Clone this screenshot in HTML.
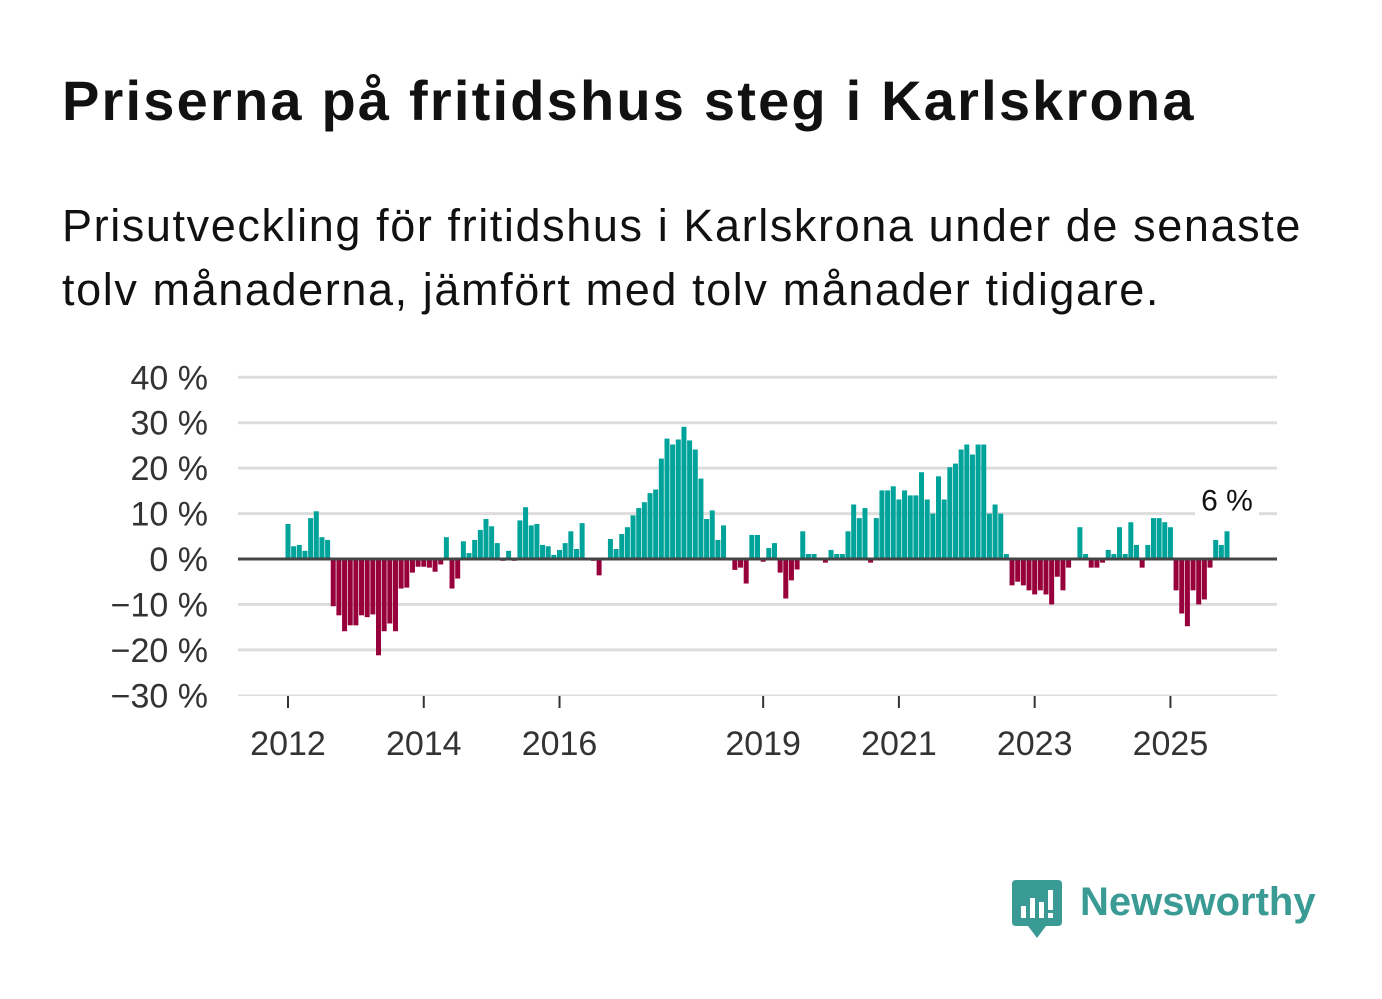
<!DOCTYPE html>
<html><head><meta charset="utf-8"><style>
body{margin:0;background:#fff;width:1382px;height:999px;overflow:hidden;font-family:"Liberation Sans","DejaVu Sans",sans-serif}
h1{position:absolute;left:62px;top:68px;margin:0;font-size:56px;font-weight:bold;color:#111;letter-spacing:2.2px;white-space:nowrap}
p{position:absolute;left:62px;top:194px;margin:0;font-size:45px;line-height:64px;color:#111;white-space:nowrap;letter-spacing:1.6px}
</style></head><body>
<h1>Priserna på fritidshus steg i Karlskrona</h1>
<p>Prisutveckling för fritidshus i Karlskrona under de senaste<br>tolv månaderna, jämfört med tolv månader tidigare.</p>
<svg id="chart" width="1382" height="999" style="position:absolute;left:0;top:0" xmlns="http://www.w3.org/2000/svg"></svg>
<div style="position:absolute;left:1012px;top:878px;width:320px;height:64px">
<svg width="50" height="62" style="position:absolute;left:0;top:2px"><path d="M4 0H46Q50 0 50 4V42Q50 46 46 46H34L25 58L16 46H4Q0 46 0 42V4Q0 0 4 0Z" fill="#3a9a94"/><rect x="9" y="26" width="5" height="12" fill="#fff"/><rect x="18" y="18" width="5" height="20" fill="#fff"/><rect x="27" y="22" width="5" height="16" fill="#fff"/><rect x="36" y="10" width="5" height="20" fill="#fff"/><rect x="36" y="33" width="5" height="5" fill="#fff"/></svg>
<span style="position:absolute;left:68px;top:2px;font-size:40px;font-weight:bold;color:#3a9a94">Newsworthy</span></div>
<script>
const startYear = 2012;
const values = [7.7,2.8,3.1,1.8,9.0,10.5,4.8,4.2,-10.4,-12.4,-15.9,-14.6,-14.6,-12.4,-12.8,-12.2,-21.2,-15.9,-14.2,-15.9,-6.5,-6.3,-3.0,-1.7,-1.7,-1.9,-2.8,-1.2,4.8,-6.5,-4.3,3.9,1.3,4.2,6.4,8.8,7.2,3.5,-0.4,1.8,-0.4,8.5,
11.4,7.4,7.7,3.1,2.8,0.9,2.0,3.5,6.1,2.2,7.9,0,-0.4,-3.6,0,4.4,2.2,5.5,7.0,9.6,11.2,12.5,14.5,15.3,22.1,26.5,25.2,26.3,29.1,26.1,24.1,17.7,8.8,10.7,4.2,7.4,0,-2.4,-1.9,-5.4,
5.3,5.3,-0.6,2.4,3.5,-3.0,-8.7,-4.7,-2.3,6.1,1.1,1.1,0,-0.8,2.0,1.1,1.1,6.1,12.0,9.0,11.2,-0.8,9.0,15.1,15.1,16.0,13.1,15.1,14.0,14.0,19.1,13.1,10.0,18.2,13.1,20.2,21.0,24.1,25.2,23.0,25.2,25.2,10.0,12.0,10.0,
1.1,-5.8,-5.0,-5.8,-6.9,-7.8,-6.9,-7.8,-10.0,-3.9,-6.9,-1.9,0,7.0,1.1,-1.9,-1.9,-0.8,2.0,1.1,7.0,1.1,8.1,3.1,-1.9,3.1,9.0,9.0,8.1,7.0,-6.9,-12.0,-14.8,-6.9,-10.0,-8.9,-1.9,4.2,3.1,6.1];
const yTicks = [40,30,20,10,0,-10,-20,-30];
const yTickLabels = ["40 %","30 %","20 %","10 %","0 %","−10 %","−20 %","−30 %"];
const xTickYears = [2012,2014,2016,2019,2021,2023,2025];
const lastLabel = "6 %";

const svg = document.getElementById('chart');
const NS = 'http://www.w3.org/2000/svg';
const y = v => 559 - v * 4.543;
const step = 939 / (values.length - 1);
const x = i => 288 + i * step;
const xYear = yr => x((yr - startYear) * 12);
function mk(tag, attrs){const e=document.createElementNS(NS,tag);for(const k in attrs)e.setAttribute(k,attrs[k]);svg.appendChild(e);return e;}
yTicks.forEach((t,k)=>{
  const g = mk('line',{x1:238,x2:1277,y1:y(t),y2:y(t),stroke:'#dddddd','stroke-width':t===-30?1.5:3});
  
  
  const l = mk('text',{x:208,y:y(t)+12,'text-anchor':'end','font-size':34,fill:'#333','font-family':'Liberation Sans, sans-serif'});
  l.textContent = yTickLabels[k];
  
  
});
values.forEach((v,i)=>{
  const r = mk('rect',{x:x(i)-2.5,width:5,y:Math.min(y(v),y(0)),height:Math.abs(y(v)-y(0)),fill:v>=0?'#00a39a':'#98003c'});
  
  
});
const z = mk('line',{x1:238,x2:1277,y1:y(0),y2:y(0),stroke:'#444','stroke-width':3});


xTickYears.forEach(yr=>{
  const t = mk('line',{x1:xYear(yr),x2:xYear(yr),y1:696,y2:708,stroke:'#333','stroke-width':2});
  
  
  const l = mk('text',{x:xYear(yr),y:755,'text-anchor':'middle','font-size':34,fill:'#333','font-family':'Liberation Sans, sans-serif'});
  l.textContent = yr;
  
  
});
const li = values.length-1;
const bg = mk('rect',{x:x(li)-32,y:y(values[li])-50,width:64,height:36,fill:'#fff'});


const lv = mk('text',{x:x(li),y:y(values[li])-21,'text-anchor':'middle','font-size':30,fill:'#111','font-family':'Liberation Sans, sans-serif'});
lv.textContent = lastLabel;


</script>
</body></html>
